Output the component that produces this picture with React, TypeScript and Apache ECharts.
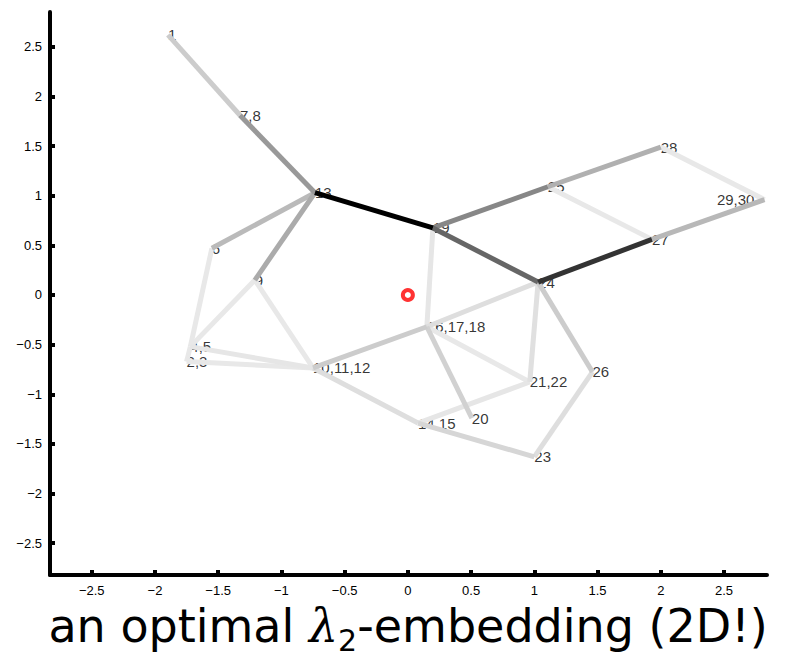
import React, { useEffect, useRef } from "react";
import * as echarts from "echarts";

const nodeNames = ["1", "7,8", "13", "19", "25", "24", "28", "29,30", "27", "6", "9", "4,5", "2,3", "10,11,12", "16,17,18", "21,22", "26", "20", "14,15", "23"];
const nodeX = [-1.897, -1.328, -0.735, 0.198, 1.107, 1.03, 2.0, 2.82, 1.93, -1.55, -1.21, -1.72, -1.75, -0.75, 0.15, 0.964, 1.46, 0.506, 0.08, 1.0];
const nodeY = [2.62, 1.81, 1.03, 0.675, 1.09, 0.13, 1.49, 0.96, 0.56, 0.47, 0.15, -0.52, -0.67, -0.735, -0.32, -0.876, -0.775, -1.24, -1.29, -1.63];

// edges: [from, to] and weight (darkness 0..1)
const edgeFrom = [0, 1, 2, 2, 2, 3, 3, 3, 4, 4, 6, 8, 5, 13, 14, 5, 5, 16, 19, 18, 14, 14, 18, 13, 13, 13, 10, 9, 11];
const edgeTo = [1, 2, 3, 9, 10, 4, 5, 14, 6, 8, 7, 7, 8, 14, 5, 15, 16, 19, 18, 15, 15, 17, 13, 10, 11, 12, 11, 11, 12];
const edgeWeight = [0.2, 0.4, 1.0, 0.27, 0.33, 0.47, 0.6, 0.1, 0.31, 0.09, 0.09, 0.28, 0.8, 0.2, 0.13, 0.12, 0.2, 0.13, 0.16, 0.1, 0.09, 0.18, 0.13, 0.09, 0.1, 0.09, 0.09, 0.09, 0.09];

const tickValues = [-2.5, -2, -1.5, -1, -0.5, 0, 0.5, 1, 1.5, 2, 2.5];
const origin = [0, 0];

function gray(w: number) {
  const v = Math.round(255 * (1 - w));
  return `rgb(${v},${v},${v})`;
}

export default function App() {
  const ref = useRef<HTMLDivElement>(null);
  useEffect(() => {
    const chart = echarts.init(ref.current!, null, { renderer: "svg" });
    const order = edgeWeight.map((_, i) => i).sort((a, b) => edgeWeight[a] - edgeWeight[b]);
    const lineData = order.map((i) => ({
      coords: [
        [nodeX[edgeFrom[i]], nodeY[edgeFrom[i]]],
        [nodeX[edgeTo[i]], nodeY[edgeTo[i]]],
      ],
      lineStyle: { color: gray(edgeWeight[i]) },
    }));
    const labelData = nodeNames.map((n, i) => ({
      value: [nodeX[i], nodeY[i]],
      name: n,
      label: n === "29,30" ? { position: "left", distance: 10 } : undefined,
    }));
    const fmt = (v: number) => String(v).replace("-", "\u2212");
    chart.setOption({
      animation: false,
      grid: { left: 50, right: 20, top: 12, bottom: 92, containLabel: false },
      xAxis: {
        type: "value",
        min: -2.83,
        max: 2.84,
        splitLine: { show: false },
        axisLine: { show: true, onZero: false, lineStyle: { color: "#000", width: 4 } },
        axisTick: { show: true, inside: true, length: 5, customValues: tickValues, lineStyle: { color: "#000", width: 4 } },
        axisLabel: { customValues: tickValues, formatter: fmt, color: "#000", fontSize: 13, fontFamily: "Liberation Sans", margin: 9 },
      },
      yAxis: {
        type: "value",
        min: -2.82,
        max: 2.85,
        splitLine: { show: false },
        axisLine: { show: true, onZero: false, lineStyle: { color: "#000", width: 4 } },
        axisTick: { show: true, inside: true, length: 5, customValues: tickValues, lineStyle: { color: "#000", width: 4 } },
        axisLabel: { customValues: tickValues, formatter: fmt, color: "#000", fontSize: 13, fontFamily: "Liberation Sans", margin: 8 },
      },
      series: [
        {
          type: "scatter",
          z: 1,
          symbolSize: 0,
          data: labelData,
          label: {
            show: true,
            position: "right",
            distance: 0,
            formatter: (p: any) => p.name,
            color: "#000",
            fontSize: 15,
            fontFamily: "Liberation Sans",
          },
        },
        {
          type: "lines",
          coordinateSystem: "cartesian2d",
          z: 2,
          lineStyle: { width: 5, opacity: 1, cap: "butt" },
          data: lineData,
        },
        {
          type: "scatter",
          z: 3,
          symbol: "circle",
          symbolSize: 10,
          itemStyle: { color: "#fff", borderColor: "#ff0000", borderWidth: 4 },
          data: [origin],
        },
      ],
      graphic: [
        {
          type: "text",
          x: 408,
          y: 626,
          style: {
            text: "{a|an optimal }{l|λ}{s|2}{a|-embedding (2D!)}",
            textAlign: "center",
            textVerticalAlign: "middle",
            fill: "#000",
            rich: {
              a: { fontSize: 46, fontFamily: "DejaVu Sans", lineHeight: 58, verticalAlign: "middle" },
              l: { fontSize: 46, fontFamily: "DejaVu Serif", fontStyle: "italic", lineHeight: 58, verticalAlign: "middle" },
              s: { fontSize: 30, fontFamily: "DejaVu Sans", lineHeight: 31, verticalAlign: "bottom" },
            },
          },
        },
      ],
    });
    return () => chart.dispose();
  }, []);
  return <div ref={ref} style={{ position: "absolute", left: 0, top: 0, width: 787, height: 667 }} />;
}
